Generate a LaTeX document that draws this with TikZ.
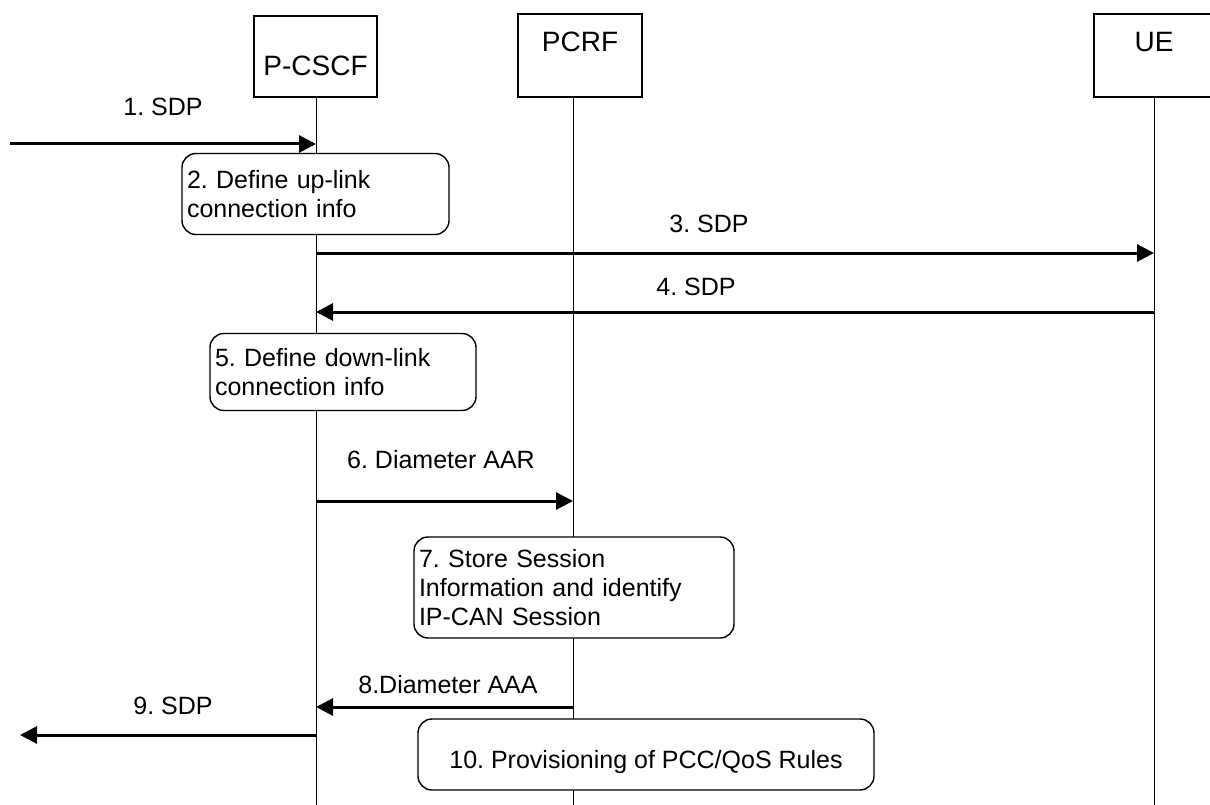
\documentclass[tikz,border=0pt]{standalone}
\usepackage{fontspec}
\setmainfont{Liberation Sans}
\frenchspacing
\usetikzlibrary{arrows.meta}
\tikzstyle{entity}=[rectangle, draw=black, line width=1.2pt, inner sep=0pt,
font=\fontsize{28}{32}\selectfont]
\tikzstyle{stepbox}=[rectangle, rounded corners=14pt, draw=black, fill=white,
line width=1.4pt, inner xsep=5pt, inner ysep=0pt, align=left]
\tikzstyle{lifeline}=[line width=1pt]
\tikzstyle{msg}=[line width=3pt, -{Triangle[length=17pt, width=17pt]}]
\tikzstyle{msglabel}=[inner sep=0pt]

\begin{document}
\begin{tikzpicture}[x=1pt, y=-1pt, font=\fontsize{25}{29}\selectfont]
  \useasboundingbox (0, 0) rectangle (1210, 805);

  % Entities
  \node (pcscf) at (315.5, 76) [entity, anchor=base, minimum width=123pt, text height=60pt, text depth=21pt]{P-CSCF};
  \node (pcrf) at (580, 52) [entity, anchor=base, minimum width=124pt, text height=38pt, text depth=45pt]{PCRF};
  \node (ue) at (1154, 52) [entity, anchor=base, minimum width=120pt, text height=38pt, text depth=45pt]{UE};

  % Lifelines
  \coordinate (pcscf end) at (316, 805);
  \coordinate (pcrf end) at (573, 805);
  \coordinate (ue end) at (1154, 805);
  \draw[lifeline] (pcscf end |- pcscf.south) -- (pcscf end);
  \draw[lifeline] (pcrf end |- pcrf.south) -- (pcrf end);
  \draw[lifeline] (ue end |- ue.south) -- (ue end);

  % Steps
  \node (step2) at (315.5, 194) [stepbox, minimum height=81pt, text width=257pt]{2. Define up-link\\connection info};
  \node (step5) at (343, 372) [stepbox, minimum height=77pt, text width=256pt]{5. Define down-link\\connection info};
  \node (step7) at (574, 587.5) [stepbox, minimum height=101pt, text width=310pt]{7. Store Session\\Information and identify\\IP-CAN Session};
  \node (step10) at (646, 768) [stepbox, anchor=base, minimum width=456pt, text height=49pt, text depth=22pt, align=center]{10. Provisioning of PCC/QoS Rules};

  % Message ends
  \coordinate (src1) at (10, 144);
  \coordinate (m3) at (0, 253);
  \coordinate (m4) at (0, 312);
  \coordinate (m6) at (0, 501);
  \coordinate (m8) at (0, 707);
  \coordinate (dst9) at (20, 735);

  % Messages
  \draw[msg] (src1) -- (src1 -| pcscf end);
  \draw[msg] (pcscf end |- m3) -- (ue end |- m3);
  \draw[msg] (ue end |- m4) -- (pcscf end |- m4);
  \draw[msg] (pcscf end |- m6) -- (pcrf end |- m6);
  \draw[msg] (pcrf end |- m8) -- (pcscf end |- m8);
  \draw[msg] (pcscf end |- dst9) -- (dst9);

  % Message labels
  \node (l1) at (163, 107) [msglabel]{1. SDP};
  \node (l3) at (709, 224) [msglabel]{3. SDP};
  \node (l4) at (696, 287) [msglabel]{4. SDP};
  \node (l6) at (441, 460) [msglabel]{6. Diameter AAR};
  \node (l8) at (448, 685) [msglabel]{8.Diameter AAA};
  \node (l9) at (173, 706) [msglabel]{9. SDP};
\end{tikzpicture}
\end{document}
